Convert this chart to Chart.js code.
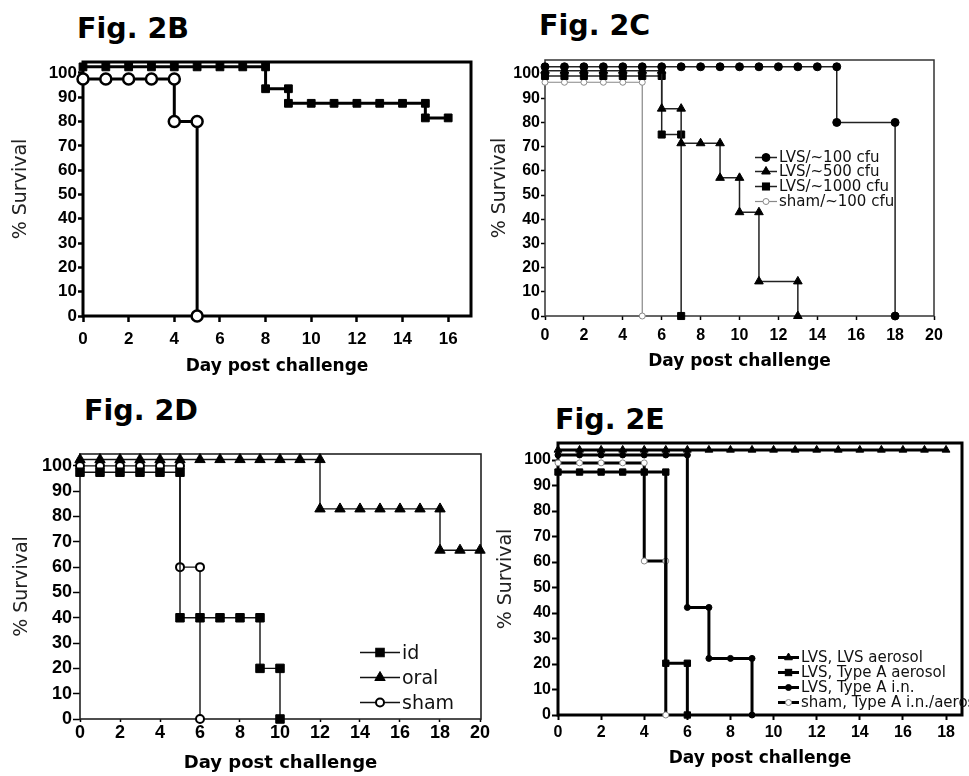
<!DOCTYPE html>
<html>
<head>
<meta charset="utf-8">
<script src="https://cdn.jsdelivr.net/npm/chart.js@4.4.1/dist/chart.umd.min.js"></script>
<style>
  body { margin: 0; background: #fff; width: 969px; height: 776px; position: relative; overflow: hidden; }
  canvas { position: absolute; }
  .fig { position: absolute; font: bold 28.5px 'DejaVu Sans', sans-serif; line-height: 28px; color: #000; white-space: nowrap; }
  .leg { position: absolute; display: flex; align-items: center; font-family: 'DejaVu Sans', sans-serif; color: #111; white-space: nowrap; }
  .leg svg { display: block; flex: none; }
</style>
</head>
<body>
<div class="fig" style="left:77px;top:15px">Fig. 2B</div>
<div class="fig" style="left:539px;top:12px">Fig. 2C</div>
<div class="fig" style="left:84px;top:397px">Fig. 2D</div>
<div class="fig" style="left:555px;top:406px">Fig. 2E</div>

<canvas id="chartB" width="480" height="390" style="left:0;top:0"></canvas>
<canvas id="chartC" width="489" height="390" style="left:480px;top:0"></canvas>
<canvas id="chartD" width="495" height="386" style="left:0;top:390px"></canvas>
<canvas id="chartE" width="489" height="386" style="left:480px;top:390px"></canvas>

<script>
// tick values
const yTicks = [0, 10, 20, 30, 40, 50, 60, 70, 80, 90, 100];
const xTicksB = [0, 2, 4, 6, 8, 10, 12, 14, 16];
const xTicksCD = [0, 2, 4, 6, 8, 10, 12, 14, 16, 18, 20];
const xTicksE = [0, 2, 4, 6, 8, 10, 12, 14, 16, 18];

// Fig. 2B
const bVaxDays = [0, 1, 2, 3, 4, 5, 6, 7, 8, 8, 9, 9, 10, 11, 12, 13, 14, 15, 15, 16];
const bVaxSurv = [102.5, 102.5, 102.5, 102.5, 102.5, 102.5, 102.5, 102.5, 102.5, 93.5, 93.5, 87.5, 87.5, 87.5, 87.5, 87.5, 87.5, 87.5, 81.5, 81.5];
const bShamDays = [0, 1, 2, 3, 4, 4, 5, 5];
const bShamSurv = [97.5, 97.5, 97.5, 97.5, 97.5, 80, 80, 0];

// Fig. 2C
const cLabels = ['LVS/~100 cfu', 'LVS/~500 cfu', 'LVS/~1000 cfu', 'sham/~100 cfu'];
const c100Days = [0, 1, 2, 3, 4, 5, 6, 7, 8, 9, 10, 11, 12, 13, 14, 15, 15, 18, 18];
const c100Surv = [103, 103, 103, 103, 103, 103, 103, 103, 103, 103, 103, 103, 103, 103, 103, 103, 80, 80, 0];
const c500Days = [0, 1, 2, 3, 4, 5, 6, 6, 7, 7, 8, 9, 9, 10, 10, 11, 11, 13, 13];
const c500Surv = [101.4, 101.4, 101.4, 101.4, 101.4, 101.4, 101.4, 85.7, 85.7, 71.4, 71.4, 71.4, 57.1, 57.1, 42.9, 42.9, 14.3, 14.3, 0];
const c1000Days = [0, 1, 2, 3, 4, 5, 6, 6, 7, 7];
const c1000Surv = [99.2, 99.2, 99.2, 99.2, 99.2, 99.2, 99.2, 75, 75, 0];
const cShamDays = [0, 1, 2, 3, 4, 5, 5];
const cShamSurv = [96.6, 96.6, 96.6, 96.6, 96.6, 96.6, 0];

// Fig. 2D
const dLabels = ['id', 'oral', 'sham'];
const dIdDays = [0, 1, 2, 3, 4, 5, 5, 6, 7, 8, 9, 9, 10, 10];
const dIdSurv = [97.5, 97.5, 97.5, 97.5, 97.5, 97.5, 40, 40, 40, 40, 40, 20, 20, 0];
const dOralDays = [0, 1, 2, 3, 4, 5, 6, 7, 8, 9, 10, 11, 12, 12, 13, 14, 15, 16, 17, 18, 18, 19, 20];
const dOralSurv = [102.5, 102.5, 102.5, 102.5, 102.5, 102.5, 102.5, 102.5, 102.5, 102.5, 102.5, 102.5, 102.5, 83, 83, 83, 83, 83, 83, 83, 66.7, 66.7, 66.7];
const dShamDays = [0, 1, 2, 3, 4, 5, 5, 6, 6];
const dShamSurv = [100, 100, 100, 100, 100, 100, 60, 60, 0];

// Fig. 2E
const eLabels = ['LVS, LVS aerosol', 'LVS, Type A aerosol', 'LVS, Type A i.n.', 'sham, Type A i.n./aerosol'];
const eLvsAeroDays = [0, 1, 2, 3, 4, 5, 6, 7, 8, 9, 10, 11, 12, 13, 14, 15, 16, 17, 18];
const eLvsAeroSurv = [104, 104, 104, 104, 104, 104, 104, 104, 104, 104, 104, 104, 104, 104, 104, 104, 104, 104, 104];
const eTypeAAeroDays = [0, 1, 2, 3, 4, 5, 5, 6, 6];
const eTypeAAeroSurv = [95.3, 95.3, 95.3, 95.3, 95.3, 95.3, 20.3, 20.3, 0];
const eTypeAInDays = [0, 1, 2, 3, 4, 5, 6, 6, 7, 7, 8, 9, 9];
const eTypeAInSurv = [102, 102, 102, 102, 102, 102, 102, 42.2, 42.2, 22.2, 22.2, 22.2, 0];
const eShamDays = [0, 1, 2, 3, 4, 4, 5, 5];
const eShamSurv = [98.9, 98.9, 98.9, 98.9, 98.9, 60.4, 60.4, 0];

const pts = (days, surv) => days.map((d, i) => ({ x: d, y: surv[i] }));

// one survival curve; s = marker / line style
function curve(label, days, surv, s) {
  return {
    label: label,
    data: pts(days, surv),
    borderColor: s.line,
    borderWidth: s.lw,
    pointStyle: s.marker,
    pointRadius: s.r,
    pointHoverRadius: s.r,
    pointBackgroundColor: s.fill,
    pointBorderColor: s.edge,
    pointBorderWidth: s.pbw,
    tension: 0,
    fill: false,
    clip: false
  };
}

// box round the plot area
const framePlugin = {
  id: 'frame',
  beforeDatasetsDraw(chart, args, opts) {
    const { ctx, chartArea: a } = chart;
    ctx.save();
    ctx.strokeStyle = opts.color;
    ctx.lineWidth = opts.width;
    ctx.strokeRect(a.left, a.top, a.right - a.left, a.bottom - a.top);
    ctx.restore();
  }
};

function makeChart(p) {
  return new Chart(document.getElementById(p.id), {
    type: 'line',
    data: { datasets: p.datasets },
    plugins: [framePlugin],
    options: {
      responsive: false,
      animation: false,
      events: [],
      layout: { padding: { left: 0, top: p.area.top, right: p.w - p.area.right, bottom: 0 } },
      plugins: {
        legend: { display: false },
        tooltip: { enabled: false },
        frame: { color: p.frameColor, width: p.frameWidth }
      },
      scales: {
        x: {
          type: 'linear', min: 0, max: p.xMax,
          afterBuildTicks: s => { s.ticks = p.xTicks.map(v => ({ value: v })); },
          afterFit: s => { s.height = p.h - p.area.bottom; },
          border: { display: false },
          grid: { drawOnChartArea: false, drawTicks: true, tickLength: p.xTickLen, tickWidth: p.tickWidth, tickColor: '#000' },
          ticks: { font: { family: 'Liberation Sans', weight: 'bold', size: p.tickSize }, color: '#000', padding: p.xPad, maxRotation: 0, autoSkip: false },
          title: { display: true, text: 'Day post challenge', color: '#000', font: { family: 'DejaVu Sans', weight: 'bold', size: p.xTitleSize }, padding: { top: 0, bottom: p.xTitlePad } }
        },
        y: {
          type: 'linear', min: 0, max: p.yMax,
          afterBuildTicks: s => { s.ticks = yTicks.map(v => ({ value: v })); },
          afterFit: s => { s.width = p.area.left; },
          border: { display: false },
          grid: { drawOnChartArea: false, drawTicks: true, tickLength: p.yTickLen, tickWidth: p.tickWidth, tickColor: '#000' },
          ticks: { font: { family: 'Liberation Sans', weight: 'bold', size: p.tickSize }, color: '#000', padding: 1, autoSkip: false },
          title: { display: true, text: '% Survival', color: '#222', font: { family: 'DejaVu Sans', size: 19 }, padding: { top: p.yTitlePad, bottom: 0 } }
        }
      }
    }
  });
}

function legendIcon(s, w, h) {
  const cx = w / 2, cy = h / 2;
  let m;
  if (s.marker === 'circle') {
    m = `<circle cx="${cx}" cy="${cy}" r="${s.r}" fill="${s.fill}" stroke="${s.edge}" stroke-width="${s.pbw}"/>`;
  } else if (s.marker === 'rect') {
    const a = s.r * Math.SQRT1_2;
    m = `<rect x="${cx - a}" y="${cy - a}" width="${2 * a}" height="${2 * a}" fill="${s.fill}" stroke="${s.edge}" stroke-width="${s.pbw}"/>`;
  } else {
    const r = s.r, k = r * 0.866;
    m = `<polygon points="${cx},${cy - r} ${cx + k},${cy + r / 2} ${cx - k},${cy + r / 2}" fill="${s.fill}" stroke="${s.edge}" stroke-width="${s.pbw}"/>`;
  }
  return `<svg width="${w}" height="${h}"><line x1="0" y1="${cy}" x2="${w}" y2="${cy}" stroke="${s.line}" stroke-width="${s.lw}"/>${m}</svg>`;
}

function makeLegend(labels, styles, o) {
  labels.forEach((lab, i) => {
    const row = document.createElement('div');
    row.className = 'leg';
    row.style.left = o.left + 'px';
    row.style.top = (o.top + i * o.step) + 'px';
    row.style.height = o.rowH + 'px';
    row.style.fontSize = o.size + 'px';
    row.innerHTML = legendIcon(styles[i], o.iconW, o.rowH) + `<span style="margin-left:${o.gap}px;line-height:${o.rowH}px">${lab}</span>`;
    document.body.appendChild(row);
  });
}

// styles
const bSq = { marker: 'rect', r: 5.5, fill: '#000', edge: '#000', pbw: 1, line: '#000', lw: 3 };
const bCi = { marker: 'circle', r: 5.5, fill: '#fff', edge: '#000', pbw: 2.5, line: '#000', lw: 3 };

const cCi = { marker: 'circle', r: 4, fill: '#000', edge: '#000', pbw: 1, line: '#222', lw: 1.5 };
const cTr = { marker: 'triangle', r: 5, fill: '#000', edge: '#000', pbw: 1, line: '#222', lw: 1.5 };
const cSq = { marker: 'rect', r: 5, fill: '#000', edge: '#000', pbw: 1, line: '#222', lw: 1.5 };
const cSh = { marker: 'circle', r: 3, fill: '#fff', edge: '#888', pbw: 1, line: '#888', lw: 1.2 };

const dSq = { marker: 'rect', r: 6, fill: '#000', edge: '#000', pbw: 1, line: '#111', lw: 1.4 };
const dTr = { marker: 'triangle', r: 6, fill: '#000', edge: '#000', pbw: 1, line: '#111', lw: 1.4 };
const dCi = { marker: 'circle', r: 4, fill: '#fff', edge: '#000', pbw: 2, line: '#111', lw: 1.4 };

const eTr = { marker: 'triangle', r: 4.5, fill: '#000', edge: '#000', pbw: 1, line: '#000', lw: 3 };
const eSq = { marker: 'rect', r: 4.5, fill: '#000', edge: '#000', pbw: 1, line: '#000', lw: 3 };
const eCi = { marker: 'circle', r: 3, fill: '#000', edge: '#000', pbw: 1, line: '#000', lw: 3 };
const eSh = { marker: 'circle', r: 3, fill: '#fff', edge: '#888', pbw: 1, line: '#000', lw: 3 };

makeChart({
  id: 'chartB', w: 480, h: 390, area: { left: 83, top: 62, right: 471, bottom: 316 },
  xMax: 17, yMax: 104.5, xTicks: xTicksB, frameColor: '#000', frameWidth: 3,
  tickSize: 17, tickWidth: 2.5, xTickLen: 6, yTickLen: 5, xPad: 7,
  xTitleSize: 17, xTitlePad: 12.8, yTitlePad: 9.6,
  datasets: [
    curve('immunized', bVaxDays, bVaxSurv, bSq),
    curve('sham', bShamDays, bShamSurv, bCi)
  ]
});

makeChart({
  id: 'chartC', w: 489, h: 390, area: { left: 65, top: 60, right: 454, bottom: 316 },
  xMax: 20, yMax: 105.8, xTicks: xTicksCD, frameColor: '#333', frameWidth: 1.5,
  tickSize: 16, tickWidth: 1.5, xTickLen: 4, yTickLen: 4, xPad: 6,
  xTitleSize: 17, xTitlePad: 18, yTitlePad: 8.6,
  datasets: [
    curve(cLabels[0], c100Days, c100Surv, cCi),
    curve(cLabels[1], c500Days, c500Surv, cTr),
    curve(cLabels[2], c1000Days, c1000Surv, cSq),
    curve(cLabels[3], cShamDays, cShamSurv, cSh)
  ]
});

makeChart({
  id: 'chartD', w: 495, h: 386, area: { left: 80, top: 64, right: 481, bottom: 329 },
  xMax: 20.05, yMax: 104.7, xTicks: xTicksCD, frameColor: '#222', frameWidth: 1.6,
  tickSize: 18, tickWidth: 1.5, xTickLen: 3, yTickLen: 7, xPad: 0,
  xTitleSize: 18, xTitlePad: 2, yTitlePad: 10.6,
  datasets: [
    curve(dLabels[0], dIdDays, dIdSurv, dSq),
    curve(dLabels[1], dOralDays, dOralSurv, dTr),
    curve(dLabels[2], dShamDays, dShamSurv, dCi)
  ]
});

makeChart({
  id: 'chartE', w: 489, h: 386, area: { left: 78, top: 53, right: 482, bottom: 325 },
  xMax: 18.74, yMax: 106.7, xTicks: xTicksE, frameColor: '#000', frameWidth: 3,
  tickSize: 16, tickWidth: 2, xTickLen: 5, yTickLen: 6, xPad: 3,
  xTitleSize: 17, xTitlePad: 7.5, yTitlePad: 14.3,
  datasets: [
    curve(eLabels[0], eLvsAeroDays, eLvsAeroSurv, eTr),
    curve(eLabels[1], eTypeAAeroDays, eTypeAAeroSurv, eSq),
    curve(eLabels[2], eTypeAInDays, eTypeAInSurv, eCi),
    curve(eLabels[3], eShamDays, eShamSurv, eSh)
  ]
});

makeLegend(cLabels, [cCi, cTr, cSq, cSh], { left: 755, top: 149.7, step: 14.6, rowH: 15, iconW: 22, gap: 2, size: 15 });
makeLegend(dLabels, [dSq, dTr, dCi], { left: 360, top: 640.2, step: 25, rowH: 25, iconW: 40, gap: 2, size: 19 });
makeLegend(eLabels, [eTr, eSq, eCi, eSh], { left: 778, top: 650.4, step: 14.7, rowH: 15, iconW: 21, gap: 2, size: 15 });
</script>
</body>
</html>
